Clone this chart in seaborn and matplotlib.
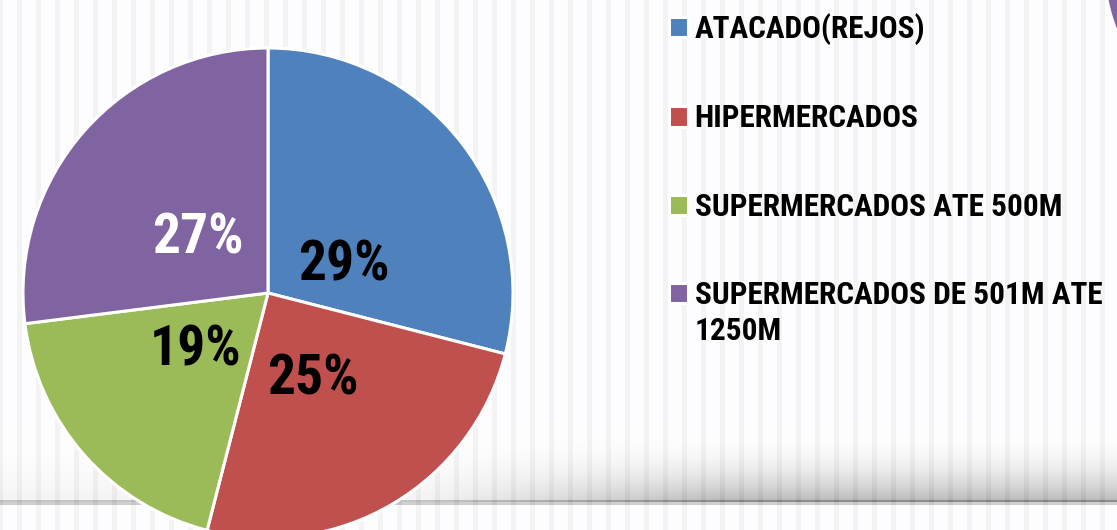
import numpy as np
import matplotlib
matplotlib.use("Agg")
import matplotlib.pyplot as plt
from matplotlib.patches import Circle
import seaborn as sns

# ---- data ----
categories = ["ATACADO(REJOS)", "HIPERMERCADOS", "SUPERMERCADOS ATE 500M",
              "SUPERMERCADOS DE 501M ATE\n1250M"]
values = [29, 25, 19, 27]
pct_labels = ["29%", "25%", "19%", "27%"]
colors = ["#4F81BD", "#C0504D", "#9BBB59", "#8064A2"]
label_colors = ["black", "black", "black", "white"]

sns.set_theme(style="white")
plt.rcParams["font.family"] = ["Roboto Condensed", "DejaVu Sans"]
plt.rcParams["font.weight"] = "bold"
palette = sns.color_palette(colors)

W, H = 1117, 530
fig = plt.figure(figsize=(W / 100, H / 100), dpi=100)

# ---- background (slide decoration) ----
bg = fig.add_axes([0, 0, 1, 1])
xx = np.arange(W)[None, :].astype(float)
yy = np.arange(H)[:, None].astype(float)
stripe = (np.cos(2 * np.pi * xx / 19.0) > 0.55).astype(float)
img = 1.0 - 0.04 * stripe * np.ones_like(yy)
band = np.clip((yy - 430) / 72.0, 0, 1) ** 2.2 * (yy < 502)
horiz = 0.15 + 0.85 * np.clip((xx - 420) / 300.0, 0, 1)
img = img - 0.28 * band * horiz
img = img - 0.18 * ((yy >= 500) & (yy <= 504))
img = np.clip(img, 0, 1)
rgb = np.dstack([img * 0.995, img * 0.995, img])
bg.imshow(rgb, extent=[0, W, H, 0], aspect="auto", interpolation="nearest", zorder=0)
bg.add_patch(Circle((1299, -40), 196, facecolor="#8064A2", edgecolor="white",
                    lw=2, zorder=2))
bg.set_xlim(0, W)
bg.set_ylim(H, 0)
bg.axis("off")

# ---- pie ----
cx, cy, R = 268, H - 293, 245
ax = fig.add_axes([(cx - R) / W, (cy - R) / H, 2 * R / W, 2 * R / H])
wedges, _ = ax.pie(values, colors=palette, startangle=90, counterclock=False,
                   radius=1.0, wedgeprops=dict(edgecolor="white", linewidth=2.2))
ax.set_xlim(-1, 1)
ax.set_ylim(-1, 1)
ax.set_aspect("equal")
ax.axis("off")

label_pos = [(0.310, 0.127), (0.184, -0.335), (-0.294, -0.216), (-0.286, 0.241)]
for (lx, ly), t, c in zip(label_pos, pct_labels, label_colors):
    ax.text(lx, ly - 0.078, t, ha="center", va="baseline", fontsize=40,
            fontweight="bold", color=c)

# ---- legend ----
fs = 22.5
first_lines = [c.split("\n")[0] for c in categories]
leg = fig.legend(wedges, first_lines, loc="upper left",
                 bbox_to_anchor=(669 / W, 1 - 13 / H),
                 frameon=False, prop=dict(family=["Roboto Condensed", "DejaVu Sans"],
                                          weight="bold", size=fs),
                 handlelength=0.62, handleheight=0.62, handletextpad=0.2,
                 labelspacing=1.87, borderpad=0, borderaxespad=0)
for txt in leg.get_texts():
    txt.set_color("black")

# continuation lines of wrapped legend labels
fig.canvas.draw()
inv = fig.transFigure.inverted()
for txt, cat in zip(leg.get_texts(), categories):
    rest = cat.split("\n")[1:]
    if rest:
        bb = txt.get_window_extent()
        x0, y0 = inv.transform((bb.x0, bb.y0))
        fig.text(x0, y0 - 6 / H, "\n".join(rest), ha="left", va="top",
                 fontsize=fs, fontweight="bold", color="black",
                 family=["Roboto Condensed", "DejaVu Sans"])

fig.savefig("out.png", dpi=100)
